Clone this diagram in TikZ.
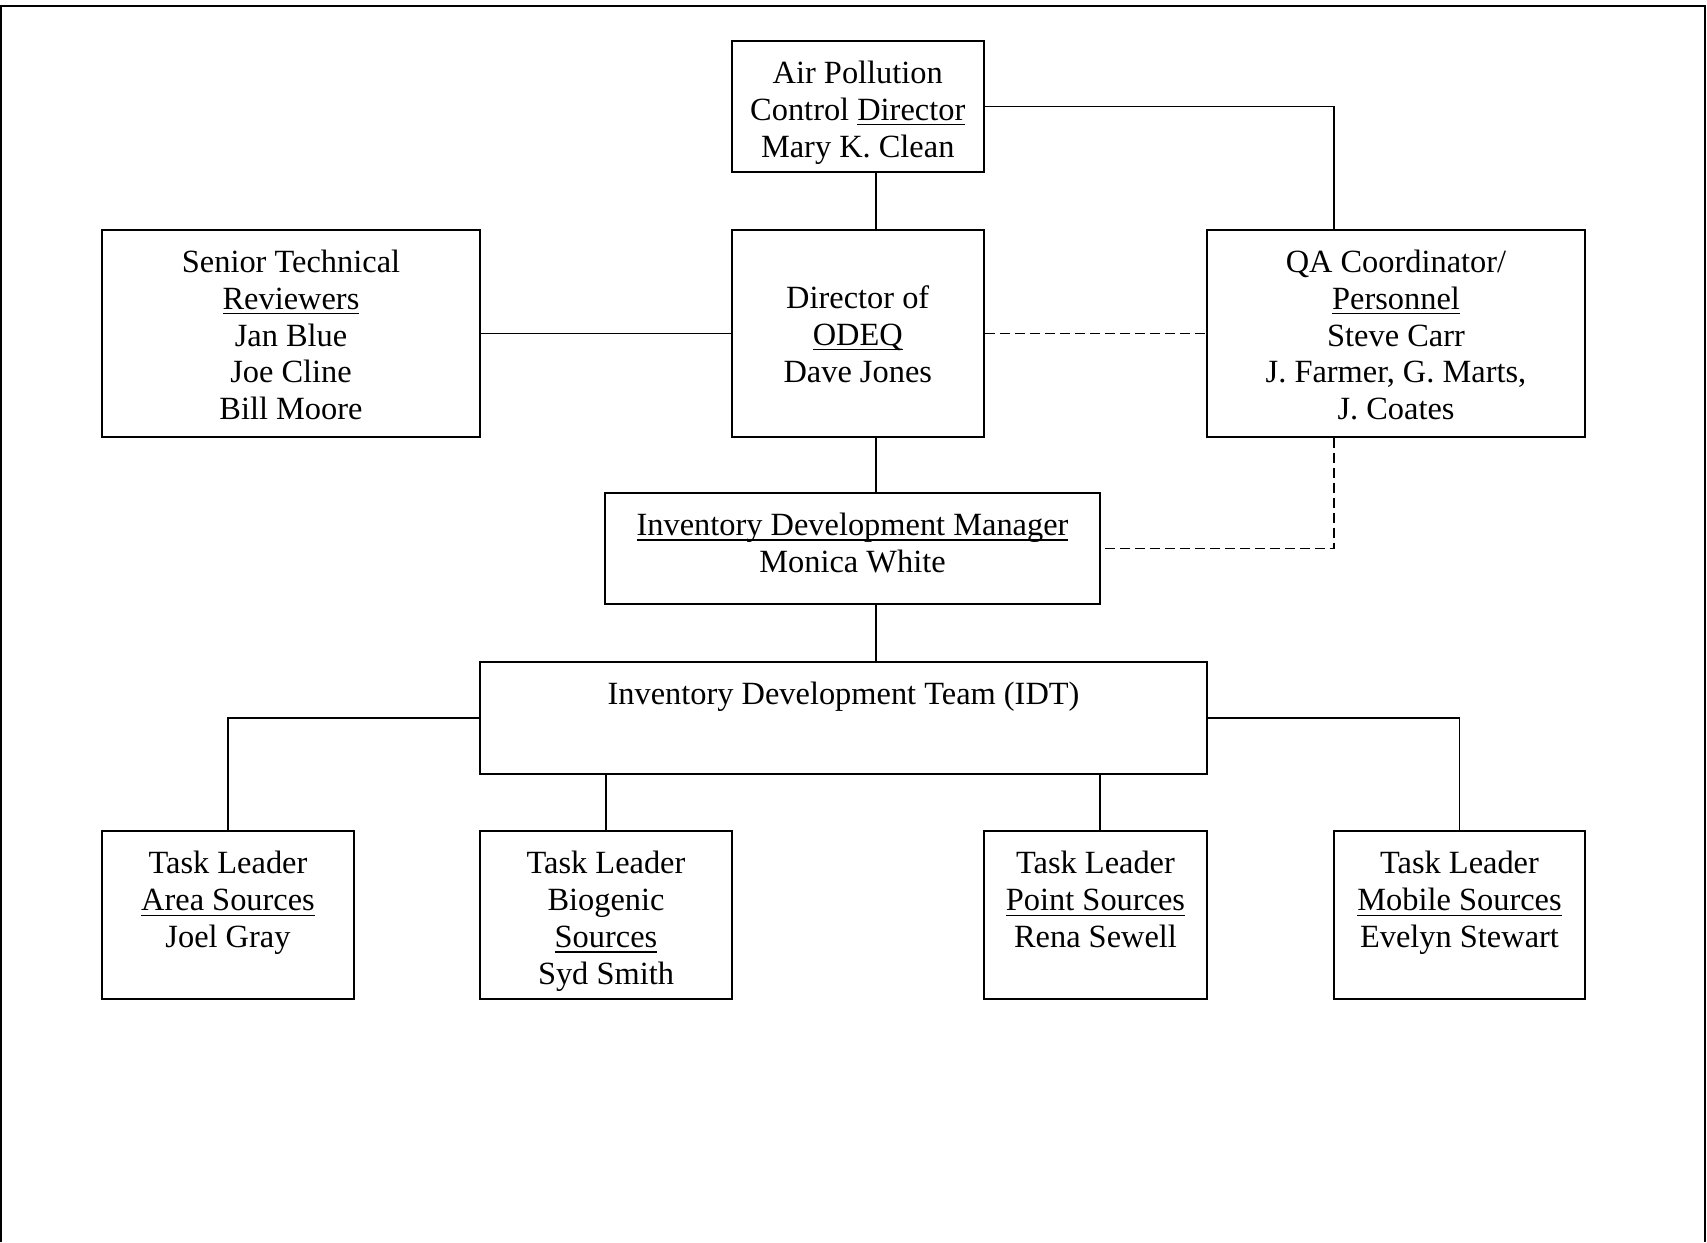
\documentclass[tikz,border=0pt]{standalone}
\usepackage{fontspec}
\setmainfont{Liberation Serif}
\usetikzlibrary{fit}
\newcommand\undl[1]{\setbox0\hbox{#1}\rlap{\rule[-2.6pt]{\wd0}{0.7pt}}\box0}
\newcommand\fl{\rule{0pt}{13pt}}
\begin{document}
\begin{tikzpicture}[x=0.5pt,y=-0.5pt,
  box/.style={draw, line width=1pt, inner sep=0pt},
  conn/.style={line width=0.7pt},
  dconn/.style={conn, dash pattern=on 5pt off 2.5pt},
  txt/.style={anchor=north, inner sep=0pt, align=center, font=\fontsize{16.2}{18.4}\selectfont}]
\useasboundingbox (0,0) rectangle (1707,1242);
% frame
\draw[line width=0.85pt] (1,1242) -- (1,6) -- (1705,6) -- (1705,1242);

% boxes
\node[box, fit={(731.5,41) (984,172)}] (air) {};
\node[box, fit={(102,230) (480,436.5)}] (senior) {};
\node[box, fit={(731.5,230) (984,436.5)}] (dir) {};
\node[box, fit={(1207,230) (1585,436.5)}] (qa) {};
\node[box, fit={(605,493) (1100,604)}] (mgr) {};
\node[box, fit={(480,662) (1207,774)}] (idt) {};
\node[box, fit={(102,831) (354,999)}] (area) {};
\node[box, fit={(480,831) (732,999)}] (bio) {};
\node[box, fit={(984,831) (1207,999)}] (pt) {};
\node[box, fit={(1334,831) (1585,999)}] (mob) {};

% texts
\node[txt] (airT) at (857.75,57) {\fl Air Pollution\\Control \undl{Director}\\Mary K. Clean};
\node[txt] (seniorT) at (291,246) {\fl Senior Technical\\\undl{Reviewers}\\Jan Blue\\Joe Cline\\Bill Moore};
\node[txt] (dirT) at (857.75,282) {\fl Director of\\\undl{ODEQ}\\Dave Jones};
\node[txt] (qaT) at (1396,246) {\fl QA Coordinator/\\\undl{Personnel}\\Steve Carr\\J. Farmer, G. Marts,\\J. Coates};
\node[txt] (mgrT) at (852.5,509) {\fl\undl{Inventory Development Manager}\\Monica White};
\node[txt] (idtT) at (843.5,678.5) {\fl Inventory Development Team (IDT)};
\node[txt] (areaT) at (228,847.5) {\fl Task Leader\\\undl{Area Sources}\\Joel Gray};
\node[txt] (bioT) at (606,847.5) {\fl Task Leader\\Biogenic\\\undl{Sources}\\Syd Smith};
\node[txt] (ptT) at (1095.5,847.5) {\fl Task Leader\\\undl{Point Sources}\\Rena Sewell};
\node[txt] (mobT) at (1459.5,847.5) {\fl Task Leader\\\undl{Mobile Sources}\\Evelyn Stewart};

% connector helper coordinates
\coordinate (vm) at (876,0);
\coordinate (vq) at (1334,0);
\coordinate (vp) at (1100,0);

% connectors
\draw[conn] (air.east) -| (vq |- qa.north);
\draw[conn] (vm |- air.south) -- (vm |- dir.north);
\draw[conn] (senior.east) -- (dir.west);
\draw[dconn] (dir.east) -- (qa.west);
\draw[conn] (vm |- dir.south) -- (vm |- mgr.north);
\draw[dconn] (vq |- qa.south) |- (mgr.east);
\draw[conn] (vm |- mgr.south) -- (vm |- idt.north);
\draw[conn] (idt.west) -| (area.north);
\draw[conn] (idt.east) -| (mob.north);
\draw[conn] (bio.north |- idt.south) -- (bio.north);
\draw[conn] (vp |- idt.south) -- (vp |- pt.north);
\end{tikzpicture}
\end{document}
